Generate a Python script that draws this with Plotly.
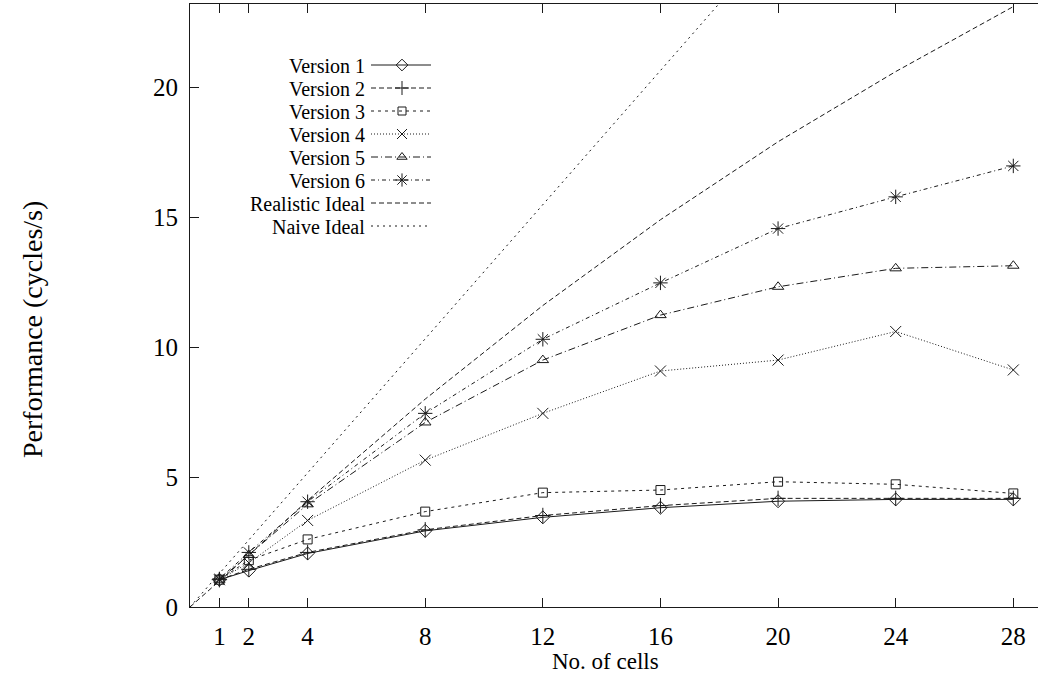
import plotly.graph_objects as go

# ---------------- data ----------------
cells = [1, 2, 4, 8, 12, 16, 20, 24, 28]
version1 = [1.05, 1.40, 2.06, 2.93, 3.45, 3.82, 4.07, 4.14, 4.14]
version2 = [1.05, 1.45, 2.10, 2.97, 3.52, 3.90, 4.18, 4.18, 4.18]
version3 = [1.05, 1.80, 2.60, 3.67, 4.40, 4.50, 4.82, 4.72, 4.37]
version4 = [1.05, 1.70, 3.33, 5.65, 7.45, 9.08, 9.50, 10.60, 9.12]
version5 = [1.05, 2.00, 3.95, 7.10, 9.50, 11.23, 12.32, 13.03, 13.13]
version6 = [1.08, 2.10, 4.05, 7.45, 10.30, 12.47, 14.56, 15.78, 16.97]

ideal_cells = [0, 1, 2, 4, 8, 12, 16, 20, 24, 28]
realistic_ideal = [0, 1.0, 2.0, 4.1, 8.0, 11.6, 14.9, 17.9, 20.6, 23.1]
naive_ideal = [0, 1.29, 2.58, 5.16, 10.32, 15.48, 20.64, 25.8, 30.96, 36.12]

series_names = ["Version 1", "Version 2", "Version 3", "Version 4",
                "Version 5", "Version 6", "Realistic Ideal", "Naive Ideal"]
x_ticks = [1, 2, 4, 8, 12, 16, 20, 24, 28]
y_ticks = [0, 5, 10, 15, 20]

# ---------------- styles ----------------
INK = "#1a1a1a"
FONT = "Liberation Serif"
styles = [
    dict(dash="solid", symbol="diamond-open", size=10),
    dict(dash="5px,3px", symbol="cross-thin-open", size=11),
    dict(dash="3px,4px", symbol="square-open", size=9),
    dict(dash="1px,2px", symbol="x-thin-open", size=11),
    dict(dash="7px,3px,1px,3px", symbol="triangle-up-open", size=10),
    dict(dash="4px,3px,1px,3px", symbol="asterisk-open", size=12),
    dict(dash="5px,3px", symbol=None, size=0),
    dict(dash="2px,4px", symbol=None, size=0),
]
versions = [version1, version2, version3, version4, version5, version6]

fig = go.Figure()

for name, ys, st in zip(series_names[:6], versions, styles[:6]):
    fig.add_trace(go.Scatter(
        x=cells, y=ys, name=name, mode="lines+markers",
        line=dict(color=INK, width=1, dash=st["dash"]),
        marker=dict(symbol=st["symbol"], size=st["size"], color=INK,
                    line=dict(color=INK, width=1)),
        showlegend=False, cliponaxis=True))

for name, ys, st in zip(series_names[6:], [realistic_ideal, naive_ideal], styles[6:]):
    fig.add_trace(go.Scatter(
        x=ideal_cells, y=ys, name=name, mode="lines",
        line=dict(color=INK, width=1, dash=st["dash"]),
        showlegend=False))

# ---------------- custom legend (gnuplot style: text right, sample left) ----
# overlay axes in pixel units of the plot area
PX_L, PX_R, PX_T, PX_B = 190, 1038, 4, 607
leg_text_right = 366
leg_line = (371, 431)
leg_top = 65
leg_step = 23
for i, (name, st) in enumerate(zip(series_names, styles)):
    yrow = leg_top + i * leg_step
    fig.add_trace(go.Scatter(
        x=list(leg_line), y=[yrow, yrow], mode="lines",
        line=dict(color=INK, width=1, dash=st["dash"]),
        xaxis="x2", yaxis="y2", showlegend=False, hoverinfo="skip"))
    if st["symbol"]:
        fig.add_trace(go.Scatter(
            x=[402], y=[yrow], mode="markers",
            marker=dict(symbol=st["symbol"], size=st["size"] - 1, color=INK,
                        line=dict(color=INK, width=1)),
            xaxis="x2", yaxis="y2", showlegend=False, hoverinfo="skip"))
    fig.add_annotation(x=leg_text_right, y=yrow + 1, xref="x2", yref="y2",
                       text=name, showarrow=False, xanchor="right",
                       yanchor="middle", borderpad=0,
                       font=dict(family=FONT, size=20, color="black"))

W, H = 1038, 677
plot_w = PX_R - PX_L
plot_h = PX_B - PX_T

fig.add_annotation(text="No. of cells", xref="paper", yref="paper",
                   x=(605 - PX_L) / plot_w, y=(PX_B - 661) / plot_h,
                   showarrow=False, xanchor="center", yanchor="middle",
                   font=dict(family=FONT, size=23, color="black"))
fig.add_annotation(text="Performance (cycles/s)", xref="paper", yref="paper",
                   x=(32 - PX_L) / plot_w, y=(PX_B - 330) / plot_h,
                   showarrow=False, textangle=-90,
                   xanchor="center", yanchor="middle",
                   font=dict(family=FONT, size=28, color="black"))

fig.update_layout(
    width=W, height=H,
    margin=dict(l=PX_L, r=W - PX_R, t=PX_T, b=H - PX_B, pad=0),
    paper_bgcolor="white", plot_bgcolor="white",
    font=dict(family=FONT, size=25, color="black"),
    xaxis=dict(range=[0, 28.84], tickvals=x_ticks, ticks="inside", ticklen=9,
               tickcolor=INK, showline=True, linecolor=INK, linewidth=1,
               mirror="ticks", showgrid=False, zeroline=False,
               ticklabelstandoff=7),
    yaxis=dict(range=[0, 23.2], tickvals=y_ticks, ticks="inside", ticklen=9,
               tickcolor=INK, showline=True, linecolor=INK, linewidth=1,
               mirror=False, showgrid=False, zeroline=False,
               ticklabelstandoff=6),
    xaxis2=dict(range=[PX_L, PX_R], overlaying="x", anchor="y2",
                visible=False, fixedrange=True),
    yaxis2=dict(range=[PX_B, PX_T], overlaying="y", anchor="x2",
                visible=False, fixedrange=True),
)

fig.write_html("out.html", config={"displayModeBar": False},
               post_script="document.body.style.margin='0';")
